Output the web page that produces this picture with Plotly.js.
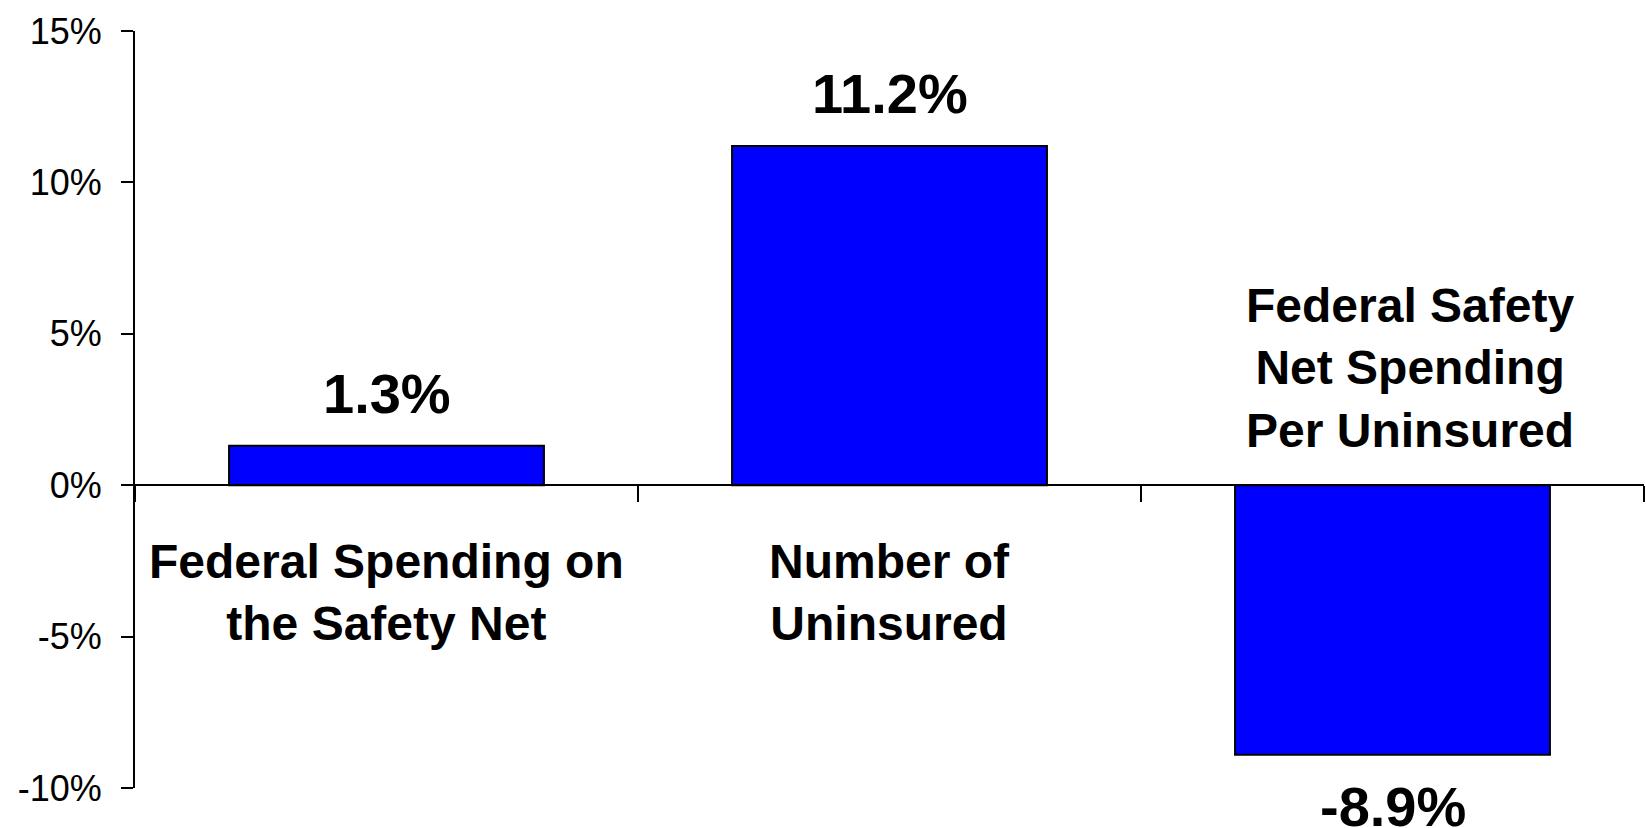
<!DOCTYPE html>
<html>
<head>
<meta charset="utf-8">
<script src="https://cdn.plot.ly/plotly-3.0.1.min.js"></script>
<style>
  html, body { margin: 0; padding: 0; background: #ffffff; }
  #chart { width: 1646px; height: 828px; }
</style>
</head>
<body>
<div id="chart"></div>
<script>
// ---- Data ----
var categories = ['Federal Spending on the Safety Net', 'Number of Uninsured', 'Federal Safety Net Spending Per Uninsured'];
var categoryLabels = ['Federal Spending on<br>the Safety Net', 'Number of<br>Uninsured', 'Federal Safety<br>Net Spending<br>Per Uninsured'];
var values = [1.3, 11.2, -8.9];
var valueLabels = ['1.3%', '11.2%', '-8.9%'];
var yTickVals = [-10, -5, 0, 5, 10, 15];
var yTickText = ['-10%', '-5%', '0%', '5%', '10%', '15%'];

var FONT = 'Liberation Sans, Arial, Helvetica, sans-serif';

var trace = {
  type: 'bar',
  x: categories,
  y: values,
  marker: { color: '#0000FF', line: { color: '#000000', width: 2 } },
  hoverinfo: 'skip',
  cliponaxis: false
};

var annotations = [];
for (var i = 0; i < categories.length; i++) {
  var v = values[i];
  // value labels
  annotations.push({
    x: categories[i], y: v, xref: 'x', yref: 'y',
    text: '<b>' + valueLabels[i] + '</b>',
    showarrow: false,
    font: { family: FONT, size: 56, color: '#000000' },
    xanchor: 'center',
    yanchor: v >= 0 ? 'bottom' : 'top',
    yshift: v >= 0 ? 19 : -18
  });
  // category labels (opposite side of the bar)
  annotations.push({
    x: categories[i], y: 0, xref: 'x', yref: 'y',
    text: '<b>' + categoryLabels[i] + '</b>',
    showarrow: false,
    align: 'center',
    font: { family: FONT, size: 48, color: '#000000' },
    xanchor: 'center',
    yanchor: v >= 0 ? 'top' : 'bottom',
    yshift: v >= 0 ? -48 : 26,
    xshift: v >= 0 ? 0 : 17
  });
}

var layout = {
  width: 1646,
  height: 828,
  margin: { l: 135, r: 2, t: 31, b: 40, pad: 0 },
  paper_bgcolor: '#ffffff',
  plot_bgcolor: '#ffffff',
  showlegend: false,
  bargap: 0.374,
  font: { family: FONT, color: '#000000' },
  xaxis: {
    type: 'category',
    anchor: 'free',
    position: 0.4,
    showline: true,
    linecolor: '#000000',
    linewidth: 2,
    showgrid: false,
    zeroline: false,
    ticks: 'outside',
    tickson: 'boundaries',
    ticklen: 16,
    tickwidth: 2,
    tickcolor: '#000000',
    showticklabels: false,
    fixedrange: true
  },
  yaxis: {
    range: [-10, 15],
    tickmode: 'array',
    tickvals: yTickVals,
    ticktext: yTickText,
    showline: true,
    linecolor: '#000000',
    linewidth: 2,
    showgrid: false,
    zeroline: false,
    ticks: 'outside',
    ticklen: 12,
    tickwidth: 2,
    tickcolor: '#000000',
    ticklabelstandoff: 12,
    tickfont: { family: FONT, size: 36, color: '#000000' },
    fixedrange: true
  },
  annotations: annotations
};

Plotly.newPlot('chart', [trace], layout, { displayModeBar: false, staticPlot: true });
</script>
</body>
</html>
